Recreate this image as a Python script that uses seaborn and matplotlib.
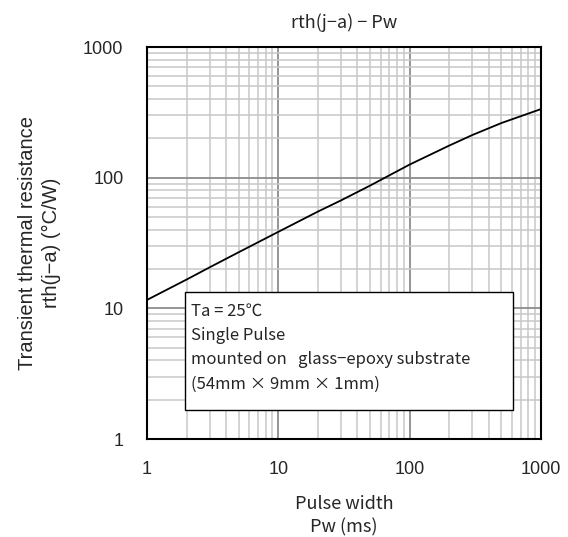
import matplotlib
matplotlib.use("Agg")
import matplotlib.pyplot as plt
import seaborn as sns
import pandas as pd
from matplotlib.patches import Rectangle
from matplotlib.ticker import LogLocator, FixedLocator, NullFormatter

pulse_width_ms = [1, 2, 3, 5, 10, 20, 30, 50, 100, 200, 300, 500, 1000]
rth_cw = [11.6, 16.6, 20.6, 26.9, 38.5, 55.0, 67.0, 87.0, 126.0, 176.0, 212.0, 262.0, 335.0]
x_ticks = [1, 10, 100, 1000]
x_tick_labels = ["1", "10", "100", "1000"]
y_ticks = [1, 10, 100, 1000]
y_tick_labels = ["1", "10", "100", "1000"]
box_lines = ["Ta = 25\u2103", "Single Pulse", "mounted on   glass\u2212epoxy substrate",
             "(54mm \u00d7 9mm \u00d7 1mm)"]

sns.set_style("white")
arial = ['Liberation Sans', 'DejaVu Sans']
plt.rcParams['font.family'] = arial
jp = ['Noto Sans CJK JP', 'DejaVu Sans']

fig = plt.figure(figsize=(5.68, 5.37), dpi=100)
ax = fig.add_axes([147/568, 1-439/537, 394/568, 392/537])

df = pd.DataFrame({"Pw": pulse_width_ms, "rth": rth_cw})
sns.lineplot(data=df, x="Pw", y="rth", ax=ax, color="black", linewidth=1.3, zorder=5)

ax.set_xscale("log")
ax.set_yscale("log")
ax.set_xlim(1, 1000)
ax.set_ylim(1, 1000)

ax.xaxis.set_major_locator(FixedLocator(x_ticks))
ax.yaxis.set_major_locator(FixedLocator(y_ticks))
ax.set_xticklabels(x_tick_labels, fontfamily=arial)
ax.set_yticklabels(y_tick_labels, fontfamily=arial)
ax.xaxis.set_minor_locator(LogLocator(base=10, subs=range(2, 10)))
ax.yaxis.set_minor_locator(LogLocator(base=10, subs=range(2, 10)))
ax.xaxis.set_minor_formatter(NullFormatter())
ax.yaxis.set_minor_formatter(NullFormatter())
ax.tick_params(which="both", length=0, labelsize=13)
ax.tick_params(axis="x", pad=16)
ax.tick_params(axis="y", pad=17)

ax.grid(True, which="major", color="#8c8c8c", linewidth=1.3, zorder=0)
ax.grid(True, which="minor", color="#c8c8c8", linewidth=1.1, zorder=0)
ax.set_axisbelow(True)
for s in ax.spines.values():
    s.set_color("black")
    s.set_linewidth(1.5)
    s.set_visible(True)

ax.set_xlabel("Pulse width\nPw (ms)", fontsize=13, family=jp, labelpad=12, linespacing=1.35)
ax.set_ylabel("Transient thermal resistance\nrth(j\u2212a) (\u00b0C/W)", fontsize=14.5, labelpad=16,
              linespacing=1.3, family=arial)
ax.set_title("rth(j\u2212a) \u2212 Pw", fontsize=13, family=jp, pad=14)

box = Rectangle((38/394, 29/392), 328/394, 118/392, transform=ax.transAxes,
                facecolor="white", edgecolor="black", linewidth=1.0, zorder=10)
ax.add_patch(box)
ys = [311, 336, 360, 384]
for t, yp in zip(box_lines, ys):
    ax.text(191/568, 1 - yp/537, t, transform=fig.transFigure, fontsize=12, family=jp,
            va="center", ha="left", zorder=11)

fig.savefig("out.png", dpi=100)
